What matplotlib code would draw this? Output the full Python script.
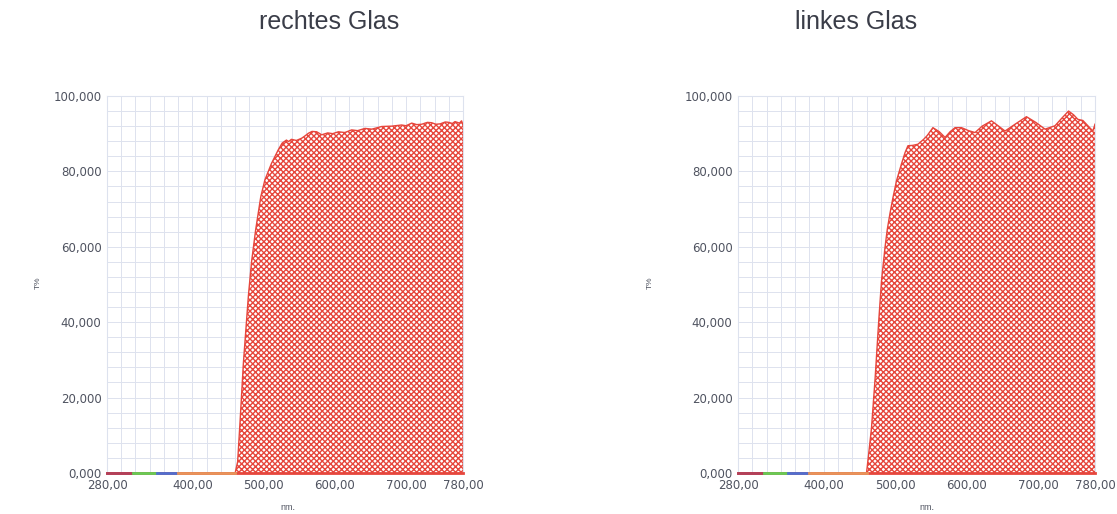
import numpy as np
import matplotlib
matplotlib.use('agg')
import matplotlib.pyplot as plt

# rechtes Glas (left panel)
nm_re = [280, 460, 463.5, 467, 471.5, 478.5, 483, 488.8, 496, 501.7, 511, 520.5, 526, 532, 535, 539, 546,
         553.5, 558, 562.8, 568, 574.5, 581.5, 590, 597, 605, 614, 623.6, 632, 642.3, 652, 665.8, 680,
         693.8, 700, 708, 715, 722, 730, 736, 742, 748, 755, 760, 765, 768.8, 775, 778, 780]
t_re = [0, 0, 3, 14, 29, 46.8, 56, 64.5, 73.3, 77.7, 82.1, 85.7, 87.5, 88.3, 87.9, 88.5, 88.2,
        88.8, 89.4, 90.1, 90.6, 90.5, 89.7, 90.2, 90.0, 90.5, 90.3, 91.0, 90.8, 91.4, 91.2, 91.9, 92.0,
        92.3, 92.1, 92.8, 92.4, 92.5, 93.0, 92.9, 92.5, 92.6, 93.1, 93.0, 92.7, 93.2, 92.8, 93.4, 92.3]

# linkes Glas (right panel)
nm_li = [280, 460, 463, 467, 472, 477, 481, 486, 489, 493, 497, 502, 509, 514, 518, 525, 532, 540, 545,
         553, 562, 570, 577, 584, 593, 603, 612, 622, 635, 645, 654, 668, 684, 697, 710, 724, 733, 743,
         750, 756, 763, 770, 777, 780]
t_li = [0, 0, 5, 12, 25, 40, 51, 60, 64.5, 69, 73, 77.5, 82, 85, 86.8, 86.9, 87.2, 88.5, 89.5,
        91.6, 90.5, 89.0, 90.5, 91.6, 91.6, 90.8, 90.3, 92.0, 93.4, 92.0, 90.7, 92.5, 94.5, 93.0, 91.2, 92.1,
        94.0, 96.0, 95.0, 93.8, 93.5, 92.1, 90.7, 92.5]

titles = ['rechtes Glas', 'linkes Glas']
xticks = [280, 400, 500, 600, 700, 780]
xticklabels = ['280,00', '400,00', '500,00', '600,00', '700,00', '780,00']
yticks = [0, 20, 40, 60, 80, 100]
yticklabels = ['0,000', '20,000', '40,000', '60,000', '80,000', '100,000']

# coloured baseline segments along 0 %
band_edges = [280, 317, 350, 380, 460]
band_colors = ['#b0405a', '#66cc55', '#4f6fd0', '#e8945a']

plt.rcParams['font.family'] = ['Liberation Sans', 'DejaVu Sans']
plt.rcParams['hatch.linewidth'] = 1.0

red = '#e6463c'
gridc = '#dde2ee'
labc = '#4f5360'

fig = plt.figure(figsize=(11.17, 5.14), dpi=100)
positions = [[0.0958, 0.0798, 0.3187, 0.7335], [0.6607, 0.0798, 0.3196, 0.7335]]
title_x = [0.2946, 0.766]
ylab_x = [0.034, 0.582]
xlab_x = [0.258, 0.83]

for k, (nm, t) in enumerate([(nm_re, t_re), (nm_li, t_li)]):
    ax = fig.add_axes(positions[k])
    ax.set_xlim(280, 780)
    ax.set_ylim(0, 100)
    ax.set_xticks(np.arange(280, 781, 20), minor=True)
    ax.set_yticks(np.arange(0, 101, 4), minor=True)
    ax.grid(True, which='minor', color=gridc, lw=0.7)
    ax.grid(True, which='major', color=gridc, lw=0.7)
    ax.set_axisbelow(True)
    ax.set_xticks(xticks)
    ax.set_xticklabels(xticklabels, family='DejaVu Sans')
    ax.set_yticks(yticks)
    ax.set_yticklabels(yticklabels, family='DejaVu Sans')
    ax.tick_params(which='both', length=0, labelsize=8.5, colors=labc, pad=4)
    for s in ax.spines.values():
        s.set_color(gridc)
        s.set_linewidth(0.8)

    ax.fill_between(nm, 0, t, facecolor='white', edgecolor=red, hatch='xxxxxx', linewidth=0, zorder=2)
    ax.plot(nm, t, color=red, lw=1.0, zorder=3)
    ax.plot([nm[-1], nm[-1]], [0, t[-1]], color=red, lw=1.0, zorder=3)
    ax.plot([nm[0], nm[-1]], [0, 0], color=red, lw=2, zorder=3, clip_on=False)
    for i in range(len(band_colors)):
        ax.plot([band_edges[i], band_edges[i + 1]], [0, 0], color=band_colors[i], lw=2, zorder=4, clip_on=False)

    fig.text(title_x[k], 0.957, titles[k], ha='center', va='center', fontsize=18, color='#3a3d48')
    fig.text(ylab_x[k], 0.45, 'T%', rotation=90, ha='center', va='center', fontsize=6, color=labc)
    fig.text(xlab_x[k], 0.012, 'nm.', ha='center', va='center', fontsize=6.5, color=labc)

fig.savefig('out.png', dpi=100, facecolor='white')
